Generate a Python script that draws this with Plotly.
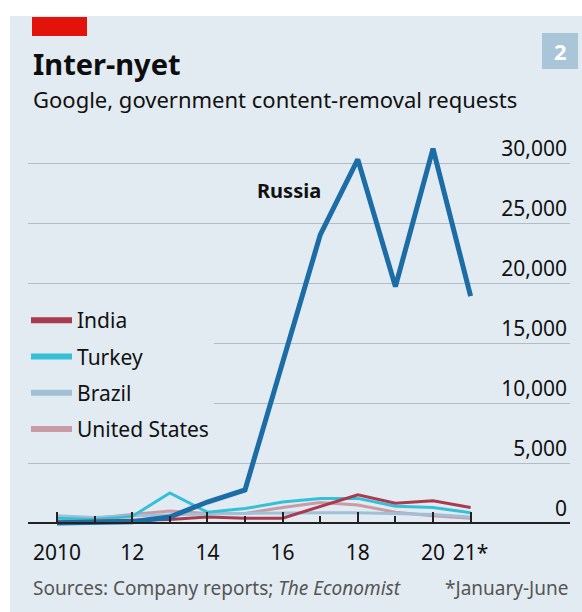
import plotly.graph_objects as go

# Google, government content-removal requests, by country
years = list(range(2010, 2022))
russia = [0, 20, 100, 500, 1750, 2750, 13500, 24000, 30300, 19700, 31200, 18900]
india = [100, 150, 200, 300, 500, 400, 400, 1350, 2350, 1650, 1850, 1300]
turkey = [400, 300, 550, 2500, 900, 1200, 1750, 2050, 2050, 1400, 1300, 850]
brazil = [600, 450, 600, 700, 750, 800, 850, 850, 850, 800, 700, 500]
united_states = [500, 400, 700, 1000, 800, 800, 1300, 1700, 1500, 900, 600, 400]

tick_years = [2010, 2012, 2014, 2016, 2018, 2020, 2021]
tick_text = ["2010", "12", "14", "16", "18", "20", "21*"]
minor_years = [2011, 2013, 2015, 2017, 2019]

PANEL = "#e2ebf1"
FONT = "Noto Sans"

# page geometry (px)
W, H = 582, 612
L, R, T, B = 28, 12, 139, 85
PLOT_W = W - L - R
PLOT_H = H - T - B


def px_x(x):
    return (x - L) / PLOT_W


def px_y(y):
    return (H - B - y) / PLOT_H


colors = {
    "India": "#a93a4f",
    "Turkey": "#36c0d8",
    "Brazil": "#a2c0d5",
    "United States": "#c99ba7",
}
values = {
    "India": india,
    "Turkey": turkey,
    "Brazil": brazil,
    "United States": united_states,
}

fig = go.Figure()

# small countries first, Russia drawn on top
for name in ["United States", "Brazil", "Turkey", "India"]:
    fig.add_trace(
        go.Scatter(
            x=years,
            y=values[name],
            mode="lines",
            line=dict(color=colors[name], width=3),
            legendgroup=name,
            showlegend=False,
            hoverinfo="skip",
        )
    )

fig.add_trace(
    go.Scatter(
        x=years,
        y=russia,
        mode="lines",
        line=dict(color="#1c6ca6", width=5),
        showlegend=False,
        hoverinfo="skip",
    )
)

# legend entries with thicker swatches
for name in ["India", "Turkey", "Brazil", "United States"]:
    fig.add_trace(
        go.Scatter(
            x=[None],
            y=[None],
            mode="lines",
            name=name,
            line=dict(color=colors[name], width=6),
            legendgroup=name,
        )
    )

y_min = -333
y_max = 32000

fig.update_layout(
    width=W,
    height=H,
    margin=dict(l=L, r=R, t=T, b=B, pad=0),
    paper_bgcolor="white",
    plot_bgcolor=PANEL,
    font=dict(family=FONT, size=21, color="#111111"),
    showlegend=True,
    legend=dict(
        x=px_x(26),
        y=px_y(300),
        xanchor="left",
        yanchor="top",
        bgcolor=PANEL,
        font=dict(size=21, color="#111111"),
        itemwidth=41,
        tracegroupgap=6,
        traceorder="grouped",
    ),
    xaxis=dict(
        range=[2010 - 29 / 37.6, 2010 + 513 / 37.6],
        # free axis sitting on the zero line; on a free axis "inside" ticks hang down
        anchor="free",
        position=(0 - y_min) / (y_max - y_min),
        showgrid=False,
        zeroline=False,
        showline=True,
        linecolor="#222222",
        linewidth=1.5,
        tickmode="array",
        tickvals=tick_years,
        ticktext=tick_text,
        ticks="inside",
        ticklen=10,
        tickwidth=1.5,
        tickcolor="#222222",
        ticklabelstandoff=11,
        tickfont=dict(size=21, color="#111111"),
        minor=dict(
            tickmode="array",
            tickvals=minor_years,
            ticks="inside",
            ticklen=6,
            tickwidth=1.5,
            tickcolor="#222222",
            showgrid=False,
        ),
        fixedrange=True,
    ),
    yaxis=dict(
        range=[y_min, y_max],
        side="right",
        tickmode="array",
        tickvals=[0, 5000, 10000, 15000, 20000, 25000, 30000],
        ticktext=["0", "5,000", "10,000", "15,000", "20,000", "25,000", "30,000"],
        ticklabelposition="inside top",
        ticklabeloverflow="allow",
        ticks="",
        showgrid=True,
        gridcolor="#b3bcc4",
        gridwidth=1.2,
        zeroline=False,
        showline=False,
        tickfont=dict(size=21, color="#111111"),
        fixedrange=True,
    ),
    shapes=[
        # background panel
        dict(
            type="rect", xref="paper", yref="paper",
            x0=px_x(10), x1=px_x(600), y0=px_y(640), y1=px_y(16),
            fillcolor=PANEL, line=dict(width=0), layer="below",
        ),
        # red tag
        dict(
            type="rect", xref="paper", yref="paper",
            x0=px_x(32), x1=px_x(87), y0=px_y(36), y1=px_y(17),
            fillcolor="#e3120b", line=dict(width=0), layer="above",
        ),
        # chart number box
        dict(
            type="rect", xref="paper", yref="paper",
            x0=px_x(542), x1=px_x(578), y0=px_y(69), y1=px_y(33),
            fillcolor="#a9c5d8", line=dict(width=0), layer="above",
        ),
    ],
    annotations=[
        dict(
            text="<b>Inter-nyet</b>", xref="paper", yref="paper",
            x=px_x(31), y=px_y(63), xanchor="left", yanchor="middle",
            showarrow=False, font=dict(size=29, color="#0d0d0d"),
        ),
        dict(
            text="Google, government content-removal requests",
            xref="paper", yref="paper",
            x=px_x(31), y=px_y(99), xanchor="left", yanchor="middle",
            showarrow=False, font=dict(size=22, color="#111111"),
        ),
        dict(
            text="<b>2</b>", xref="paper", yref="paper",
            x=px_x(560), y=px_y(51), xanchor="center", yanchor="middle",
            showarrow=False, font=dict(size=22, color="white"),
        ),
        dict(
            text="<b>Russia</b>", xref="x", yref="y",
            x=2016.17, y=27700, xanchor="center", yanchor="middle",
            showarrow=False, font=dict(size=20, color="#111111"),
        ),
        dict(
            text="Sources: Company reports; <i>The Economist</i>",
            xref="paper", yref="paper",
            x=px_x(31), y=px_y(588), xanchor="left", yanchor="middle",
            showarrow=False, font=dict(size=19, color="#555555"),
        ),
        dict(
            text="*January-June", xref="paper", yref="paper",
            x=px_x(571), y=px_y(588), xanchor="right", yanchor="middle",
            showarrow=False, font=dict(size=19, color="#555555"),
        ),
    ],
)

# drop the default 8px page margin so the figure fills the window
fig.write_html(
    "out.html",
    config={"displayModeBar": False},
    post_script="document.body.style.margin = '0';",
)
